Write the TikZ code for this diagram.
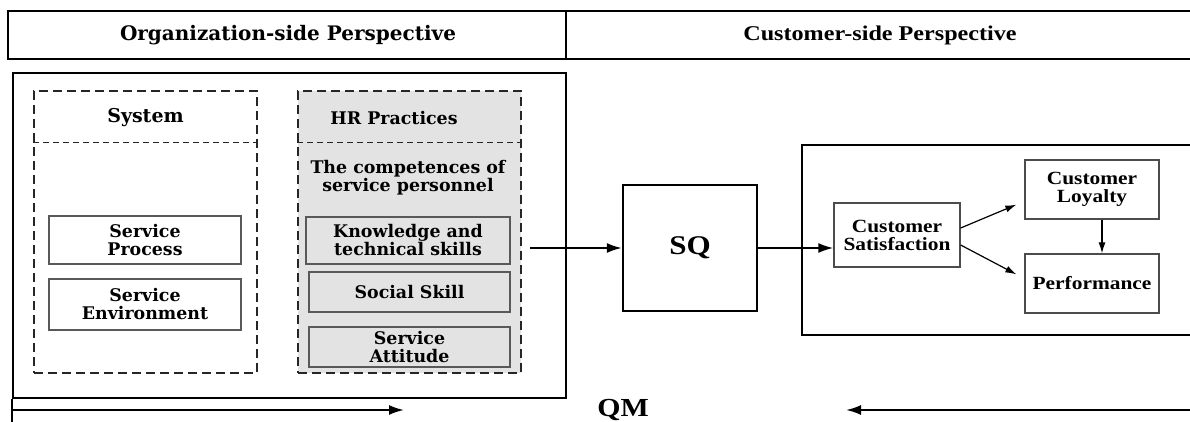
\documentclass[tikz,border=0pt]{standalone}
\usepackage{fontspec}
\newfontfamily\orgfont{DejaVu Serif}
\newfontfamily\custfont[FakeStretch=1.15]{Liberation Serif}
\usetikzlibrary{arrows.meta}

\begin{document}
\begin{tikzpicture}[x=1pt,y=-1pt,
		frame/.style={draw,line width=2.4pt},
		dashbox/.style={draw=black!85,line width=1.4pt,dash pattern=on 9pt off 5pt,inner sep=0pt},
		dashrule/.style={draw=black!85,line width=1pt,dash pattern=on 6pt off 4pt},
		orgtext/.style={font=\orgfont\bfseries\fontsize{17.4}{18}\selectfont,align=center,inner sep=0pt},
		custtext/.style={font=\custfont\bfseries\fontsize{18.6}{18}\selectfont,align=center,inner sep=0pt},
		itembox/.style={draw=black!65,line width=1.1pt,orgtext},
		custbox/.style={draw=black!70,line width=1.3pt,custtext},
		bigarrow/.style={line width=2pt,-{Latex[length=15pt,width=10pt]}},
		smallarrow/.style={line width=1.2pt,-{Latex[length=11pt,width=7pt]}}]
		\useasboundingbox (0,0) rectangle (1190,422);
		% headers
		\draw[frame] (1192,11) -| (8,59) -- (1192,59);
		\draw[frame] (566,11) -- (566,59);
		\node[font=\orgfont\bfseries\fontsize{20}{21}\selectfont] (orghead) at (288,35) {Organization-side Perspective};
		\node[font=\custfont\bfseries\fontsize{21}{22}\selectfont] (custhead) at (880,35) {Customer-side Perspective};
		% organization side
		\node[frame,minimum width=553pt,minimum height=325pt] (org) at (289.5,235.5) {};
		\node[dashbox,minimum width=223pt,minimum height=282pt] (sys) at (145.5,232) {};
		\node[dashbox,fill=black!11,minimum width=223pt,minimum height=282pt] (hr) at (409.5,232) {};
		\draw[dashrule] (sys.west |- 0,143) -- (sys.east |- 0,143);
		\draw[dashrule] (hr.west |- 0,143) -- (hr.east |- 0,143);
		\node[orgtext,font=\orgfont\bfseries\fontsize{19}{20}\selectfont] (systitle) at (145.5,118) {System};
		\node[orgtext] (hrtitle) at (394,118) {HR Practices};
		\node[orgtext] (comp) at (408,178) {The competences of\\service personnel};
		\node[itembox,fill=white,minimum width=192pt,minimum height=48pt] (proc) at (145,240) {Service\\Process};
		\node[itembox,fill=white,minimum width=192pt,minimum height=51pt] (env) at (145,304.5) {Service\\Environment};
		\node[itembox,minimum width=204pt,minimum height=47pt] (know) at (408,240.5) {Knowledge and\\technical skills};
		\node[itembox,minimum width=201pt,minimum height=40pt] (social) at (409.5,292) {Social Skill};
		\node[itembox,minimum width=201pt,minimum height=40pt] (attitude) at (409.5,347) {Service\\Attitude};
		% service quality
		\node[frame,minimum width=134pt,minimum height=126pt,font=\custfont\bfseries\fontsize{27}{28}\selectfont] (sq) at (690,248) {SQ};
		\coordinate (hrout) at (530,248);
		\draw[bigarrow] (hrout) -- (sq);
		% customer side
		\draw[frame] (1192,145) -| (802,335) -- (1192,335);
		\node[custbox,minimum width=126pt,minimum height=64pt] (sat) at (897,235) {Customer\\Satisfaction};
		\node[custbox,minimum width=134pt,minimum height=59pt] (loyal) at (1092,189.5) {Customer\\Loyalty};
		\node[custbox,minimum width=134pt,minimum height=59pt] (perf) at (1092,283.5) {Performance};
		\draw[bigarrow] (sq.east) -- (sq.east -| sat.west);
		\draw[smallarrow] ([yshift=7pt]sat.east) -- ([shift={(-8pt,15pt)}]loyal.south west);
		\draw[smallarrow] ([yshift=-10pt]sat.east) -- ([shift={(-8pt,-21pt)}]perf.north west);
		\draw[smallarrow] ([xshift=10pt]loyal.south) -- ([xshift=10pt]perf.north);
		% QM
		\node[font=\custfont\bfseries\fontsize{26}{27}\selectfont,anchor=base,inner sep=0pt] (qm) at (623,416) {QM};
		\coordinate (qmfrom) at (12,410);
		\coordinate (qmto) at (404,410);
		\coordinate (qmback) at (1192,410);
		\coordinate (qmbackto) at (846,410);
		\draw[frame] (org.south west) -- ++(0,26);
		\draw[bigarrow] (qmfrom) -- (qmto);
		\draw[bigarrow] (qmback) -- (qmbackto);
	\end{tikzpicture}
\end{document}
